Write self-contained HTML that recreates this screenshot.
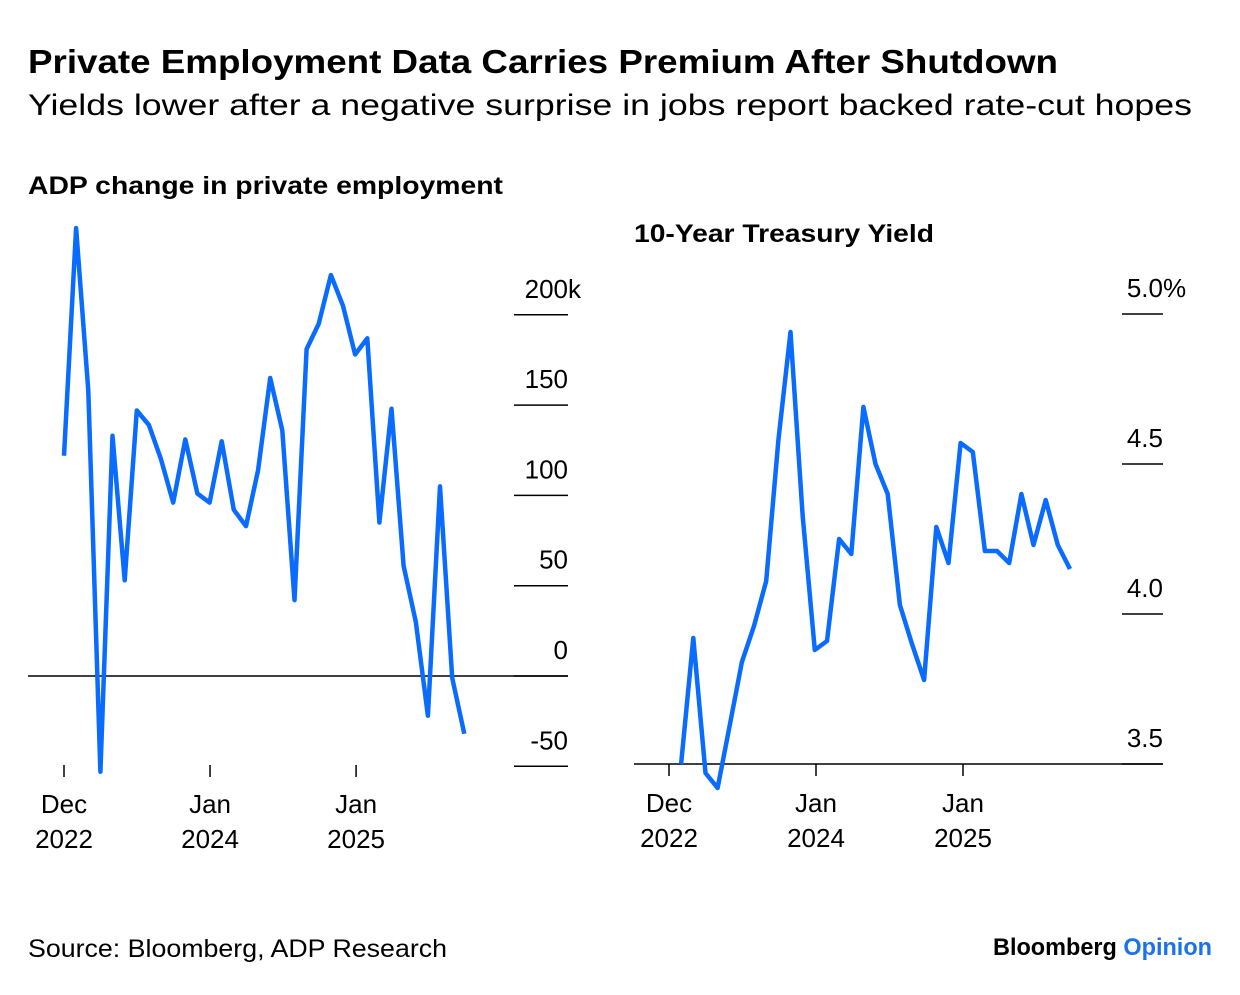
<!DOCTYPE html>
<html><head><meta charset="utf-8"><style>
body{margin:0;background:#fff;width:1240px;height:990px;overflow:hidden;font-family:"Liberation Sans",sans-serif;}
svg text{font-family:"Liberation Sans",sans-serif;}
</style></head><body>
<svg id="c" width="1240" height="990" xmlns="http://www.w3.org/2000/svg">
<text x="28" y="73" font-size="33" font-weight="bold" fill="#000" textLength="1030" lengthAdjust="spacingAndGlyphs">Private Employment Data Carries Premium After Shutdown</text>
<text x="28" y="115" font-size="30" fill="#000" textLength="1164" lengthAdjust="spacingAndGlyphs">Yields lower after a negative surprise in jobs report backed rate-cut hopes</text>
<text x="28" y="194" font-size="25" font-weight="bold" textLength="475" lengthAdjust="spacingAndGlyphs">ADP change in private employment</text>
<text x="634" y="242" font-size="25" font-weight="bold" textLength="300" lengthAdjust="spacingAndGlyphs">10-Year Treasury Yield</text>
<text x="28" y="957" font-size="25" textLength="419" lengthAdjust="spacingAndGlyphs">Source: Bloomberg, ADP Research</text>
<text x="993" y="955" font-size="24" font-weight="bold" textLength="219" lengthAdjust="spacingAndGlyphs"><tspan fill="#000">Bloomberg </tspan><tspan fill="#1a73e8">Opinion</tspan></text>
<g id="left"></g><g id="right"></g>
</svg>
<script>
const adpValues=[122,248,158,-53,133,53,147,139,120,96,131,101,96,130,92,83,114,165,136,42,181,195,222,205,178,187,85,148,61,30,-22,105,-1,-32];
const adpTicks=[200,150,100,50,0,-50];
const adpTickLabels=["200","150","100","50","0","-50"];
const yieldValues=[3.5,3.92,3.47,3.42,3.63,3.84,3.96,4.11,4.58,4.94,4.33,3.88,3.91,4.25,4.20,4.69,4.50,4.40,4.03,3.90,3.78,4.29,4.17,4.57,4.54,4.21,4.21,4.17,4.40,4.23,4.38,4.23,4.15];
const yieldTicks=[5.0,4.5,4.0,3.5];
const yieldTickLabels=["5.0","4.5","4.0","3.5"];
const xTickMonths=[0,12,24];
const xTickLine1=["Dec","Jan","Jan"];
const xTickLine2=["2022","2024","2025"];
const NS="http://www.w3.org/2000/svg";
function mk(p,t,a){const e=document.createElementNS(NS,t);for(const k in a)e.setAttribute(k,a[k]);p.appendChild(e);return e;}
function panel(g,o){
 const y=v=>o.y0+(v-o.v0)*o.k;
 const x=i=>o.x0+i*o.step;
 o.ticks.forEach((t,i)=>{
  const l=mk(g,'line',{x1:o.tx1,x2:o.tx2,y1:y(t),y2:y(t),stroke:'#000','stroke-width':1.5});
  
  
  const tx=mk(g,'text',{x:o.tx2,y:y(t)-17,'font-size':26,'text-anchor':'end'});
  tx.textContent=o.labels[i];
  
  
  if(i===0){
   const u=mk(g,'text',{x:o.tx2,y:y(t)-17,'font-size':26,'text-anchor':'start'});
   u.textContent=o.unit;
   
   
  }
 });
 const b=mk(g,'line',{x1:o.bx1,x2:o.tx2,y1:y(o.base),y2:y(o.base),stroke:'#000','stroke-width':1.5});
 
 
 xTickMonths.forEach((m,i)=>{
  const px=o.xt0+m*o.xtStep;
  const t=mk(g,'line',{x1:px,x2:px,y1:o.axisY,y2:o.axisY+12,stroke:'#000','stroke-width':1.5});
  
  
  const a=mk(g,'text',{x:px,y:o.axisY+48,'font-size':26,'text-anchor':'middle'});a.textContent=xTickLine1[i];
  
  
  const c=mk(g,'text',{x:px,y:o.axisY+83,'font-size':26,'text-anchor':'middle'});c.textContent=xTickLine2[i];
  
  
 });
 const d=o.vals.map((v,i)=>(i?'L':'M')+x(i+o.off).toFixed(1)+','+y(v).toFixed(1)).join('');
 const p=mk(g,'path',{d:d,fill:'none',stroke:'#0a6cff','stroke-width':4.5,'stroke-linejoin':'round'});
 
 
}
panel(document.getElementById('left'),{vals:adpValues,ticks:adpTicks,labels:adpTickLabels,unit:'k',v0:0,y0:676,k:-1.806,x0:64,step:12.13,off:0,tx1:514,tx2:568,bx1:28,base:0,axisY:765,xt0:64,xtStep:12.17,name:'adp-line'});
panel(document.getElementById('right'),{vals:yieldValues,ticks:yieldTicks,labels:yieldTickLabels,unit:'%',v0:3.5,y0:764,k:-300,x0:669,step:12.15,off:1,tx1:1122,tx2:1163,bx1:634,base:3.5,axisY:764,xt0:669,xtStep:12.25,name:'yield-line'});
</script>
</body></html>
